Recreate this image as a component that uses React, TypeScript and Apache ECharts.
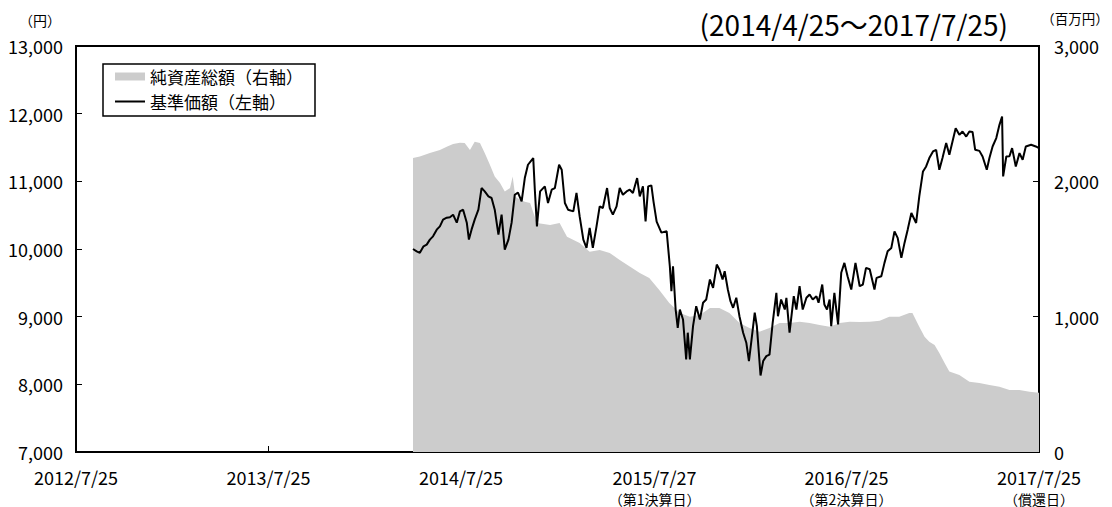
import React, { useEffect, useRef } from "react";
import * as echarts from "echarts";

const FONT = "'Noto Sans CJK JP', 'Noto Sans', sans-serif";

// 基準価額（左軸）
const navDates = [
  "2014-04-25","2014-05-02","2014-05-08","2014-05-15","2014-05-21","2014-05-27","2014-06-02","2014-06-09","2014-06-15","2014-06-21",
  "2014-06-28","2014-07-04","2014-07-10","2014-07-17","2014-07-23","2014-07-29","2014-08-05","2014-08-09","2014-08-14","2014-08-20",
  "2014-08-27","2014-09-02","2014-09-08","2014-09-15","2014-09-21","2014-09-27","2014-10-04","2014-10-10","2014-10-16","2014-10-23",
  "2014-10-29","2014-11-04","2014-11-10","2014-11-17","2014-11-23","2014-11-29","2014-12-09","2014-12-12","2014-12-16","2014-12-22",
  "2014-12-31","2015-01-06","2015-01-13","2015-01-19","2015-01-27","2015-02-01","2015-02-07","2015-02-13","2015-02-23","2015-03-01",
  "2015-03-07","2015-03-14","2015-03-20","2015-03-26","2015-04-01","2015-04-08","2015-04-14","2015-04-20","2015-04-28","2015-05-03",
  "2015-05-09","2015-05-16","2015-05-22","2015-05-28","2015-06-04","2015-06-10","2015-06-16","2015-06-24","2015-06-29","2015-07-05",
  "2015-07-10","2015-07-15","2015-07-21","2015-07-25","2015-07-31","2015-08-09","2015-08-19","2015-08-25","2015-08-28","2015-08-31",
  "2015-09-05","2015-09-09","2015-09-13","2015-09-19","2015-09-25","2015-09-28","2015-10-02","2015-10-08","2015-10-14","2015-10-21",
  "2015-10-27","2015-11-02","2015-11-09","2015-11-15","2015-11-22","2015-11-27","2015-12-03","2015-12-07","2015-12-13","2015-12-18",
  "2015-12-23","2015-12-29","2016-01-04","2016-01-11","2016-01-17","2016-01-22","2016-01-27","2016-02-02","2016-02-06","2016-02-13",
  "2016-02-18","2016-02-24","2016-03-01","2016-03-07","2016-03-14","2016-03-17","2016-03-23","2016-03-30","2016-04-02","2016-04-08",
  "2016-04-16","2016-04-21","2016-04-27","2016-05-03","2016-05-10","2016-05-16","2016-05-22","2016-05-29","2016-06-02","2016-06-09",
  "2016-06-13","2016-06-18","2016-06-23","2016-06-26","2016-07-02","2016-07-09","2016-07-15","2016-07-21","2016-07-27","2016-08-03",
  "2016-08-11","2016-08-19","2016-08-25","2016-08-31","2016-09-07","2016-09-13","2016-09-16","2016-09-20","2016-09-29","2016-10-05",
  "2016-10-11","2016-10-18","2016-10-24","2016-10-30","2016-11-06","2016-11-12","2016-11-18","2016-11-25","2016-12-04","2016-12-10",
  "2016-12-17","2016-12-23","2016-12-29","2017-01-05","2017-01-11","2017-01-17","2017-01-23","2017-01-30","2017-02-05","2017-02-11",
  "2017-02-17","2017-02-24","2017-03-02","2017-03-09","2017-03-15","2017-03-21","2017-03-26","2017-04-03","2017-04-09","2017-04-17",
  "2017-04-22","2017-04-28","2017-05-05","2017-05-11","2017-05-16","2017-05-18","2017-05-24","2017-05-30","2017-06-04","2017-06-11",
  "2017-06-18","2017-06-24","2017-06-30","2017-07-10","2017-07-19","2017-07-25"
];
const navValues = [
  10000,9966,9943,10040,10065,10139,10187,10286,10335,10434,
  10463,10470,10507,10389,10556,10581,10389,10139,10286,10434,
  10581,10901,10851,10777,10754,10581,10212,10507,9991,10139,
  10389,10802,10832,10704,11049,11245,11344,10876,10335,10851,
  10925,10680,10876,10901,11245,11171,10680,10581,10556,10828,
  10482,10139,10016,10311,10016,10335,10630,10606,10901,10606,
  10507,10630,10901,10802,10851,10876,10828,11049,10777,10925,
  10409,10925,10940,10704,10404,10242,10261,9745,9376,9745,
  9106,8836,9106,8959,8369,8763,8369,8860,9155,8959,
  9205,9254,9549,9426,9770,9696,9549,9671,9401,9229,
  9131,9279,9007,8763,8615,8344,8664,9058,8860,8130,
  8344,8417,8440,8910,9353,9007,9254,9106,9279,8763,
  9302,9106,9450,9106,9279,9327,9254,9302,9205,9475,
  9180,9106,9254,8860,9353,8885,9648,9795,9597,9401,
  9795,9450,9475,9721,9700,9500,9401,9574,9597,9795,
  9966,10016,10261,10164,9869,10090,10286,10532,10385,10777,
  11146,11220,11344,11441,11466,11171,11344,11565,11392,11589,
  11786,11687,11736,11662,11736,11730,11466,11450,11367,11171,
  11344,11515,11639,11835,11957,11072,11367,11370,11491,11220,
  11417,11319,11515,11540,11515,11491
];

// 純資産総額（右軸, 百万円）
const assetDates = [
  "2014-04-25","2014-05-08","2014-05-27","2014-06-15","2014-06-28","2014-07-10","2014-07-23","2014-08-01","2014-08-11","2014-08-20",
  "2014-08-30","2014-09-08","2014-09-18","2014-09-27","2014-10-07","2014-10-16","2014-10-26","2014-10-31","2014-11-05","2014-11-14",
  "2014-11-23","2014-12-03","2014-12-16","2015-01-10","2015-01-28","2015-02-11","2015-03-07","2015-03-26","2015-04-14","2015-05-03",
  "2015-05-22","2015-06-10","2015-06-29","2015-07-17","2015-08-05","2015-08-24","2015-09-13","2015-10-02","2015-10-21","2015-11-09",
  "2015-11-27","2015-12-16","2016-01-04","2016-01-23","2016-02-11","2016-03-01","2016-03-20","2016-04-08","2016-04-27","2016-05-16",
  "2016-06-04","2016-06-23","2016-07-12","2016-07-31","2016-08-19","2016-09-07","2016-09-26","2016-10-14","2016-11-02","2016-11-21",
  "2016-11-27","2016-12-10","2016-12-20","2016-12-29","2017-01-08","2017-01-17","2017-01-27","2017-02-05","2017-02-24","2017-03-15",
  "2017-04-03","2017-04-22","2017-05-11","2017-05-30","2017-06-18","2017-07-07","2017-07-25"
];
const assetValues = [
  2173,2183,2210,2232,2256,2276,2286,2284,2232,2293,
  2284,2210,2121,2035,1988,1924,1951,2035,1887,1863,
  1850,1840,1693,1678,1693,1591,1545,1480,1493,1471,
  1419,1370,1323,1286,1197,1101,1027,1000,1013,1064,
  1064,1027,953,916,889,916,953,953,963,953,
  939,926,953,963,961,963,970,1000,1000,1027,
  1027,926,852,815,791,732,658,594,569,520,
  510,495,483,458,458,446,438
];

const axisStart = "2012-07-25";
const axisEnd = "2017-07-25";
const tickDates = ["2012-07-25","2013-07-25","2014-07-25","2015-07-27","2016-07-25","2017-07-25"];
const tickLabels = ["2012/7/25","2013/7/25","2014/7/25","2015/7/27","2016/7/25","2017/7/25"];
const tickNotes = ["","","","（第1決算日）","（第2決算日）","（償還日）"];

const leftMin = 7000, leftMax = 13000, leftStep = 1000;
const rightMin = 0, rightMax = 3000, rightStep = 1000;

const seriesNames = ["純資産総額（右軸）", "基準価額（左軸）"];
const periodTitle = "(2014/4/25～2017/7/25)";
const leftUnit = "（円）";
const rightUnit = "（百万円）";

function ts(s: string): number {
  const [y, m, d] = s.split("-").map(Number);
  return Date.UTC(y, m - 1, d);
}

function fmt(v: number): string {
  return v.toLocaleString("en-US");
}

export default function App() {
  const ref = useRef<HTMLDivElement>(null);
  useEffect(() => {
    document.body.style.margin = "0";
    if (!ref.current) return;
    const chart = echarts.init(ref.current, null, { renderer: "svg" });
    const tickTs = tickDates.map(ts);
    const labelFor = (val: number) => {
      let idx = 0, best = Infinity;
      tickTs.forEach((t, i) => { const d = Math.abs(t - val); if (d < best) { best = d; idx = i; } });
      const a = "{a|" + tickLabels[idx] + "}";
      return tickNotes[idx] ? a + "\n{b|" + tickNotes[idx] + "}" : a;
    };
    const option: any = {
      animation: false,
      backgroundColor: "#fff",
      textStyle: { fontFamily: FONT },
      grid: {
        left: 76, right: 73, top: 46, bottom: 55,
        show: true, borderColor: "#000", borderWidth: 2,
        containLabel: false, outerBoundsMode: "none",
      },
      legend: {
        orient: "vertical",
        left: 103, top: 64,
        itemWidth: 30, itemHeight: 8, itemGap: 8,
        padding: [4, 12, 6, 12],
        borderColor: "#000", borderWidth: 1.5,
        backgroundColor: "#fff",
        textStyle: { fontSize: 17, lineHeight: 17, color: "#000", fontFamily: FONT },
        data: [
          { name: seriesNames[0], icon: "rect", itemStyle: { color: "#cccccc", borderWidth: 0 } },
          { name: seriesNames[1], icon: "path://M0,0H30V2H0Z", itemStyle: { color: "#000", borderWidth: 0 } },
        ],
      },
      xAxis: {
        type: "value",
        min: ts(axisStart), max: ts(axisEnd),
        axisLine: { show: true, lineStyle: { color: "#000", width: 2 } },
        splitLine: { show: false },
        axisTick: {
          show: true, inside: true, length: 6,
          customValues: tickTs,
          lineStyle: { color: "#000", width: 1 },
        },
        axisLabel: {
          customValues: tickTs,
          margin: 12,
          color: "#000",
          hideOverlap: false,
          showMinLabel: true, showMaxLabel: true,
          formatter: (val: number) => labelFor(val),
          rich: {
            a: { fontSize: 18, lineHeight: 25, color: "#000", fontFamily: FONT },
            b: { fontSize: 14, lineHeight: 19, color: "#000", fontFamily: FONT },
          },
        },
      },
      yAxis: [
        {
          type: "value", position: "left",
          min: leftMin, max: leftMax, interval: leftStep,
          axisLine: { show: true, lineStyle: { color: "#000", width: 2 } },
          axisTick: { show: true, inside: true, length: 6, lineStyle: { color: "#000", width: 1 } },
          splitLine: { show: false },
          axisLabel: { margin: 13, fontSize: 18, color: "#000", fontFamily: FONT, formatter: (v: number) => fmt(v) },
        },
        {
          type: "value", position: "right",
          min: rightMin, max: rightMax, interval: rightStep,
          axisLine: { show: true, lineStyle: { color: "#000", width: 2 } },
          axisTick: { show: true, inside: true, length: 6, lineStyle: { color: "#000", width: 1 } },
          splitLine: { show: false },
          axisLabel: { margin: 15, fontSize: 18, color: "#000", fontFamily: FONT, formatter: (v: number) => fmt(v) },
        },
      ],
      series: [
        {
          name: seriesNames[0],
          type: "line",
          yAxisIndex: 1,
          data: assetDates.map((d, i) => [ts(d), assetValues[i]]),
          showSymbol: false, symbol: "none",
          color: "#cccccc",
          lineStyle: { width: 0, color: "#cccccc" },
          areaStyle: { color: "#cccccc", opacity: 1 },
          z: 1,
        },
        {
          name: seriesNames[1],
          type: "line",
          yAxisIndex: 0,
          data: navDates.map((d, i) => [ts(d), navValues[i]]),
          showSymbol: false, symbol: "none",
          color: "#000",
          lineStyle: { width: 2, color: "#000" },
          z: 3,
        },
      ],
      graphic: [
        { type: "text", x: 40, y: 20, style: { text: leftUnit, fontSize: 14, fontFamily: FONT, fill: "#000", align: "center", verticalAlign: "middle" } },
        { type: "text", x: 1075, y: 18, style: { text: rightUnit, fontSize: 13.5, fontFamily: FONT, fill: "#000", align: "center", verticalAlign: "middle" } },
        { type: "text", x: 1008, y: 24, style: { text: periodTitle, fontSize: 28, fontFamily: FONT, fill: "#000", align: "right", verticalAlign: "middle" } },
      ],
    };
    chart.setOption(option);
    return () => chart.dispose();
  }, []);
  return <div ref={ref} style={{ width: 1112, height: 507 }} />;
}
